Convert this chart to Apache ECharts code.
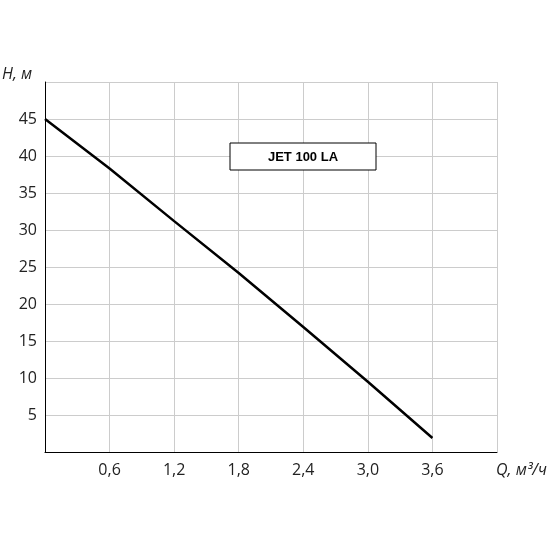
<!DOCTYPE html><html><head><meta charset="utf-8"><script src="https://cdn.jsdelivr.net/npm/echarts@6/dist/echarts.min.js"></script></head><body style="margin:0"><div id="c" style="width:550px;height:550px"></div><script>
const qValues=[0,0.6,1.2,1.8,2.4,3.0,3.6];
const hValues=[45,38.3,31.2,24.2,16.9,9.5,1.9];
const title="JET 100 LA";
const c=echarts.init(document.getElementById('c'));
const ft='"Open Sans", sans-serif';
c.setOption({animation:false,
grid:{left:45,right:53,top:82,bottom:98},
xAxis:{type:'value',min:0,max:4.2,interval:0.6,axisLine:{lineStyle:{color:'#000'}},axisTick:{show:false},
 splitLine:{lineStyle:{color:'#ccc'}},axisLabel:{color:'#222',fontSize:16,fontFamily:ft,margin:10,formatter:v=>v===0||v>4?'':v.toFixed(1).replace('.',',')}},
yAxis:{type:'value',min:0,max:50,interval:5,axisLine:{show:true,lineStyle:{color:'#000'}},axisTick:{show:false},
 splitLine:{lineStyle:{color:'#ccc'}},axisLabel:{color:'#222',fontSize:16,fontFamily:ft,margin:8,formatter:v=>v===0||v===50?'':v}},
series:[{type:'line',data:qValues.map((q,i)=>[q,hValues[i]]),showSymbol:false,lineStyle:{color:'#000',width:2.5}}],
graphic:[
{type:'rect',z:100,shape:{x:230,y:143,width:146,height:27},style:{fill:'#fff',stroke:'#000',lineWidth:1}},
{type:'text',z:101,x:303,y:157,style:{text:title,align:'center',verticalAlign:'middle',font:'bold 13px "Liberation Sans", Arial',fill:'#000'}},
{type:'text',z:101,x:2,y:66,style:{text:'H, м',font:'italic 16px '+ft,fill:'#222'}},
{type:'text',z:101,x:496,y:462,style:{text:'Q, м³/ч',font:'italic 16px '+ft,fill:'#222'}}
]});
</script></body></html>
